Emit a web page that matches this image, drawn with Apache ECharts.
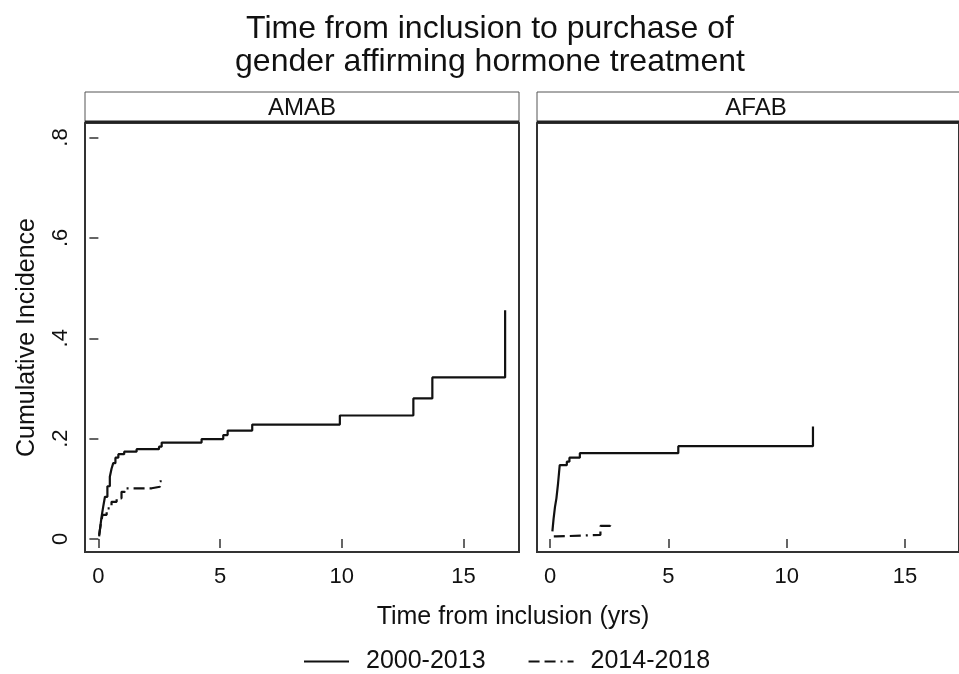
<!DOCTYPE html>
<html>
<head>
<meta charset="utf-8">
<script src="https://cdn.jsdelivr.net/npm/echarts@6/dist/echarts.min.js"></script>
<style>
  html, body { margin: 0; padding: 0; background: #fff; }
  #main { width: 959px; height: 674px; }
</style>
</head>
<body>
<div id="main"></div>
<script>
// 面板名称
const panels = ['AMAB', 'AFAB'];
const seriesNames = ['2000-2013', '2014-2018'];

// 累积发生率 [时间(年), 值]
const amabEarly = [
  [0.03, 0.005], [0.08, 0.025], [0.13, 0.044], [0.2, 0.065], [0.27, 0.084],
  [0.37, 0.105], [0.47, 0.124], [0.54, 0.14], [0.61, 0.151], [0.7, 0.162],
  [0.82, 0.169], [1.06, 0.174], [1.57, 0.179], [2.49, 0.184], [2.6, 0.192],
  [4.24, 0.199], [5.13, 0.207], [5.31, 0.216], [6.32, 0.228], [9.92, 0.246],
  [12.94, 0.28], [13.72, 0.322], [16.71, 0.456]
];
const amabLate = [
  [0.03, 0.008], [0.1, 0.03], [0.17, 0.048], [0.34, 0.061], [0.54, 0.074],
  [0.75, 0.081], [0.95, 0.094], [1.09, 0.101], [2.19, 0.104], [2.53, 0.115],
  [2.6, 0.115]
];
const afabEarly = [
  [0.1, 0.015], [0.15, 0.04], [0.21, 0.064], [0.27, 0.081], [0.34, 0.111],
  [0.41, 0.147], [0.71, 0.154], [0.82, 0.162], [1.26, 0.171], [5.42, 0.185],
  [11.11, 0.224]
];
const afabLate = [
  [0.16, 0.005], [0.27, 0.008], [2.13, 0.026], [2.54, 0.036]
];

// 刻度
const xTicks = [0, 5, 10, 15];
const yTicks = [0, 0.2, 0.4, 0.6, 0.8];

const font = 'Liberation Sans, Arial, sans-serif';
const ink = '#111';
const dashPattern = [11, 5, 11, 5, 2, 5];

const chart = echarts.init(document.getElementById('main'), null, { renderer: 'canvas' });

const grids = [
  { left: 85, top: 123, width: 434, height: 429 },
  { left: 537, top: 123, width: 434, height: 429 }
];

function makeX(i) {
  return {
    type: 'value', gridIndex: i, min: -0.55, max: 17.28,
    axisLine: { show: false },
    splitLine: { show: false },
    axisTick: { show: true, customValues: xTicks, length: 9, lineStyle: { color: '#333', width: 1.5 } },
    axisLabel: { customValues: xTicks, margin: 14, fontSize: 22, fontFamily: font, color: ink }
  };
}

function makeY(i) {
  const showLabels = i === 0;
  return {
    type: 'value', gridIndex: i, min: -0.026, max: 0.829,
    axisLine: { show: false },
    splitLine: { show: false },
    axisTick: { show: showLabels, customValues: yTicks, length: 9, lineStyle: { color: '#333', width: 1.5 } },
    axisLabel: {
      show: showLabels, customValues: yTicks, rotate: 90, margin: 13,
      fontSize: 22, fontFamily: font, color: ink,
      formatter: v => v === 0 ? '0' : String(+v.toFixed(1)).replace('0.', '.')
    },
    name: showLabels ? 'Cumulative Incidence' : '',
    nameLocation: 'middle', nameGap: 45, nameRotate: 90,
    nameTextStyle: { fontSize: 25, fontFamily: font, color: ink }
  };
}

function line(name, data, i, dashed) {
  return {
    name: name, type: 'line', step: 'end', data: data,
    xAxisIndex: i, yAxisIndex: i, symbol: 'none', silent: true,
    lineStyle: { color: ink, width: 2.2, type: dashed ? dashPattern : 'solid' },
    itemStyle: { color: ink }
  };
}

// 面板标题条
const strips = [];
grids.forEach((g, i) => {
  strips.push({
    type: 'rect', shape: { x: g.left, y: 92, width: g.width, height: 31 },
    style: { fill: '#fff', stroke: '#555', lineWidth: 1 }
  });
  strips.push({
    type: 'line', shape: { x1: g.left, y1: 122, x2: g.left + g.width, y2: 122 },
    style: { stroke: '#222', lineWidth: 3 }
  });
  strips.push({
    type: 'text', x: i === 0 ? g.left + g.width / 2 : g.left + 219, y: 108,
    style: { text: panels[i], fontSize: 24, fontFamily: font, fill: ink, align: 'center', verticalAlign: 'middle' }
  });
});

const option = {
  backgroundColor: '#fff',
  animation: false,
  title: [
    {
      text: 'Time from inclusion to purchase of\ngender affirming hormone treatment',
      left: 485, top: 8, textAlign: 'center',
      textStyle: { fontSize: 32, fontWeight: 'normal', fontFamily: font, color: ink, lineHeight: 33 }
    },
    {
      text: 'Time from inclusion (yrs)',
      left: 508, top: 600, textAlign: 'center',
      textStyle: { fontSize: 25, fontWeight: 'normal', fontFamily: font, color: ink }
    }
  ],
  legend: {
    left: 298, top: 644, itemWidth: 45, itemHeight: 14, itemGap: 42,
    data: seriesNames,
    itemStyle: { opacity: 0 },
    textStyle: { fontSize: 25, fontFamily: font, color: ink, padding: [0, 0, 0, 12] }
  },
  grid: grids.map(g => Object.assign({ show: true, borderColor: '#333', borderWidth: 2, backgroundColor: '#fff' }, g)),
  xAxis: [makeX(0), makeX(1)],
  yAxis: [makeY(0), makeY(1)],
  series: [
    line(seriesNames[0], amabEarly, 0, false),
    line(seriesNames[1], amabLate, 0, true),
    line(seriesNames[0], afabEarly, 1, false),
    line(seriesNames[1], afabLate, 1, true)
  ],
  graphic: strips
};

chart.setOption(option);
</script>
</body>
</html>
